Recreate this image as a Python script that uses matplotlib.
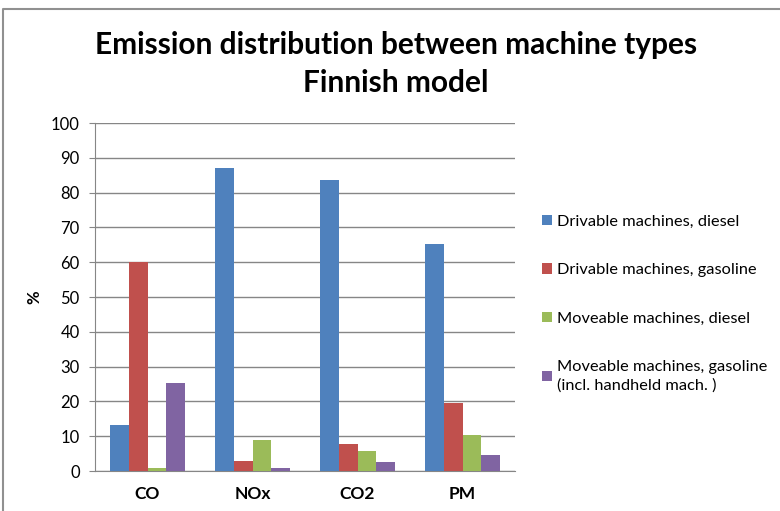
import numpy as np
import matplotlib
matplotlib.use("Agg")
from matplotlib import pyplot as plt
from matplotlib.lines import Line2D

plt.rcParams['font.family'] = ['Lato', 'DejaVu Sans']

categories = ["CO", "NOx", "CO2", "PM"]
series_names = ["Drivable machines, diesel",
                "Drivable machines, gasoline",
                "Moveable machines, diesel",
                "Moveable machines, gasoline\n(incl. handheld mach. )"]
drivable_diesel = [13.2, 87.1, 83.6, 65.2]
drivable_gasoline = [60.0, 2.9, 7.7, 19.5]
moveable_diesel = [1.0, 8.9, 5.7, 10.3]
moveable_gasoline = [25.2, 0.8, 2.6, 4.7]
colors = ["#4F81BD", "#C0504D", "#9BBB59", "#8064A2"]

fig = plt.figure(figsize=(7.8, 5.11), dpi=100)
ax = fig.add_axes([95 / 780, 40 / 511, 420 / 780, 348 / 511])

x = np.arange(len(categories))
w = 0.18
all_series = [drivable_diesel, drivable_gasoline, moveable_diesel, moveable_gasoline]
for i, vals in enumerate(all_series):
    ax.bar(x + (i - 1.5) * w, vals, w, color=colors[i], label=series_names[i], zorder=3)

ax.set_xlim(-0.5, 3.5)
ax.set_ylim(0, 100)
ax.set_yticks(range(0, 101, 10))
ax.set_xticks(x)
ax.set_xticklabels(categories, fontsize=12.5, fontweight='bold')
ax.tick_params(axis='x', length=0, pad=11)
ax.tick_params(axis='y', labelsize=12, length=4, color='#868686', pad=7)
ax.grid(axis='y', color='#868686', linewidth=1, zorder=0)
for s in ['top', 'right']:
    ax.spines[s].set_visible(False)
for s in ['left', 'bottom']:
    ax.spines[s].set_color('#868686')
ax.set_ylabel('%', fontsize=12, fontweight='bold', labelpad=6)

fig.text(396 / 780, 1 - 64 / 511, "Emission distribution between machine types\nFinnish model",
         ha='center', va='center', fontsize=21.5, fontweight='bold', linespacing=1.45)

leg = fig.legend(loc='upper left', bbox_to_anchor=(527 / 780, 1 - 200 / 511), frameon=False,
                 fontsize=11.8, labelspacing=2.1, handlelength=0.6, handleheight=0.6,
                 handletextpad=0.35)
for t in leg.get_texts():
    t.set_linespacing(1.35)

fig.add_artist(Line2D([3 / 780, 3 / 780, 1], [0, 1 - 9 / 511, 1 - 9 / 511],
                      transform=fig.transFigure, color='#909090', linewidth=1.5))

fig.savefig("out.png", dpi=100)
